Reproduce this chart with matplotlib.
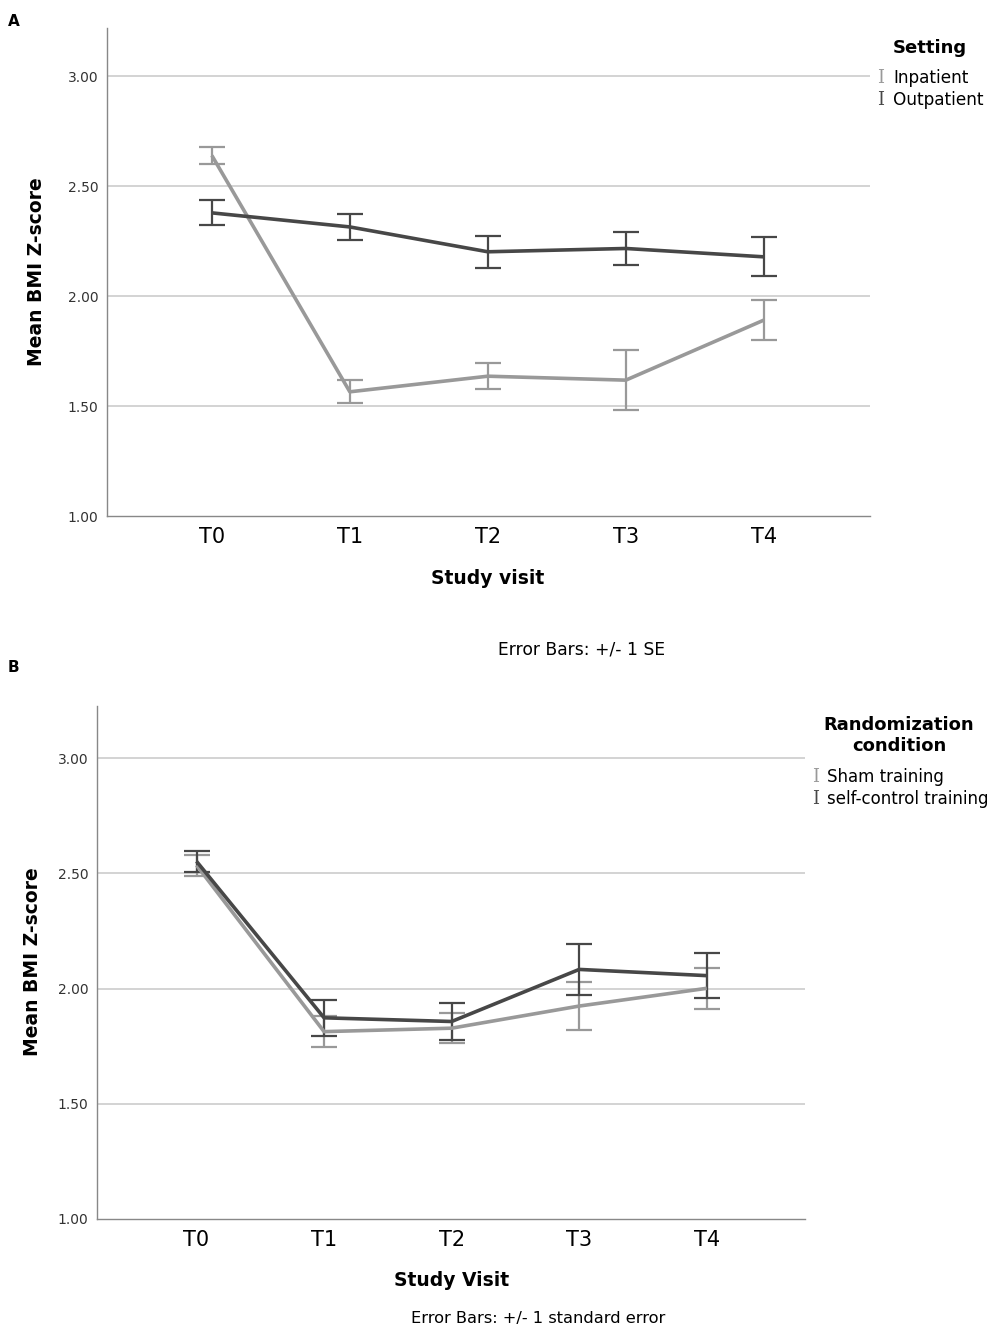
import matplotlib
matplotlib.use("Agg")
import matplotlib.pyplot as plt
import numpy as np

plt.rcParams['font.family'] = ['DejaVu Sans']

visits = ["T0", "T1", "T2", "T3", "T4"]

# Panel A: Setting
inpatient_mean = [2.640, 1.565, 1.636, 1.618, 1.891]
inpatient_se = [0.040, 0.053, 0.059, 0.137, 0.091]
outpatient_mean = [2.379, 2.315, 2.202, 2.217, 2.179]
outpatient_se = [0.057, 0.058, 0.073, 0.075, 0.088]

# Panel B: Randomization condition
sham_mean = [2.535, 1.813, 1.828, 1.924, 2.001]
sham_se = [0.045, 0.068, 0.066, 0.104, 0.088]
selfctrl_mean = [2.552, 1.873, 1.857, 2.083, 2.056]
selfctrl_se = [0.045, 0.077, 0.079, 0.112, 0.097]

yticks = [1.00, 1.50, 2.00, 2.50, 3.00]

LIGHT = "#999999"
DARK = "#474747"
GRID = "#cccccc"
SPINE = "#888888"

W, H = 996, 1339
fig = plt.figure(figsize=(W / 100, H / 100), dpi=100)


def px_axes(l, t, r, b):
    return fig.add_axes([l / W, 1 - b / H, (r - l) / W, (b - t) / H])


def draw_panel(ax, series, xlim, ylim):
    x = np.arange(len(visits))
    for mean, se, col in series:
        ax.errorbar(x, mean, yerr=se, fmt='none', ecolor=col, elinewidth=1.6,
                    capsize=9.7, capthick=1.6, zorder=3)
        ax.plot(x, mean, color=col, lw=2.6, zorder=4, solid_capstyle='butt')
    ax.set_xlim(*xlim)
    ax.set_ylim(*ylim)
    ax.set_xticks(x)
    ax.set_xticklabels(visits, fontsize=15)
    ax.set_yticks(yticks)
    ax.set_yticklabels([f"{v:.2f}" for v in yticks], fontsize=10, color="#333333")
    ax.tick_params(length=0, pad=6)
    ax.tick_params(axis='x', pad=8)
    for v in yticks[1:]:
        ax.axhline(v, color=GRID, lw=1.2, zorder=1)
    for s in ['top', 'right']:
        ax.spines[s].set_visible(False)
    for s in ['left', 'bottom']:
        ax.spines[s].set_color(SPINE)
        ax.spines[s].set_linewidth(1.0)


# Panel A
axA = px_axes(107, 28, 870, 516)
draw_panel(axA, [(inpatient_mean, inpatient_se, LIGHT),
                 (outpatient_mean, outpatient_se, DARK)],
           (-0.76, 4.77), (1.0, 3.22))
fig.text(37 / W, 1 - 272 / H, "Mean BMI Z-score", rotation=90, ha='center', va='center',
         fontsize=13.5, fontweight='bold')
fig.text(488 / W, 1 - 578 / H, "Study visit", ha='center', va='center',
         fontsize=13.5, fontweight='bold')
fig.text(582 / W, 1 - 649 / H, "Error Bars: +/- 1 SE", ha='center', va='center', fontsize=12.3)
fig.text(8 / W, 1 - 22 / H, "A", ha='left', va='center', fontsize=11, fontweight='bold')

# Legend A
fig.text(930 / W, 1 - 48 / H, "Setting", ha='center', va='center', fontsize=13, fontweight='bold')
for yy, lab, col in [(78, "Inpatient", LIGHT), (100, "Outpatient", DARK)]:
    fig.text(881 / W, 1 - yy / H, "I", ha='center', va='center', fontsize=13,
             family='DejaVu Serif', color=col)
    fig.text(893 / W, 1 - yy / H, lab, ha='left', va='center', fontsize=12.2)

# Panel B
axB = px_axes(97, 706, 805, 1219)
draw_panel(axB, [(sham_mean, sham_se, LIGHT),
                 (selfctrl_mean, selfctrl_se, DARK)],
           (-0.78, 4.77), (1.0, 3.226))
fig.text(33 / W, 1 - 962 / H, "Mean BMI Z-score", rotation=90, ha='center', va='center',
         fontsize=13.5, fontweight='bold')
fig.text(452 / W, 1 - 1281 / H, "Study Visit", ha='center', va='center',
         fontsize=13.5, fontweight='bold')
fig.text(538 / W, 1 - 1319 / H, "Error Bars: +/- 1 standard error", ha='center', va='center',
         fontsize=11.7)
fig.text(8 / W, 1 - 668 / H, "B", ha='left', va='center', fontsize=11, fontweight='bold')

# Legend B
fig.text(899 / W, 1 - 725 / H, "Randomization", ha='center', va='center', fontsize=13,
         fontweight='bold')
fig.text(899 / W, 1 - 746 / H, "condition", ha='center', va='center', fontsize=13,
         fontweight='bold')
for yy, lab, col in [(777, "Sham training", LIGHT), (799, "self-control training", DARK)]:
    fig.text(816 / W, 1 - yy / H, "I", ha='center', va='center', fontsize=13,
             family='DejaVu Serif', color=col)
    fig.text(827 / W, 1 - yy / H, lab, ha='left', va='center', fontsize=12)

fig.savefig("out.png", dpi=100, facecolor='white')
